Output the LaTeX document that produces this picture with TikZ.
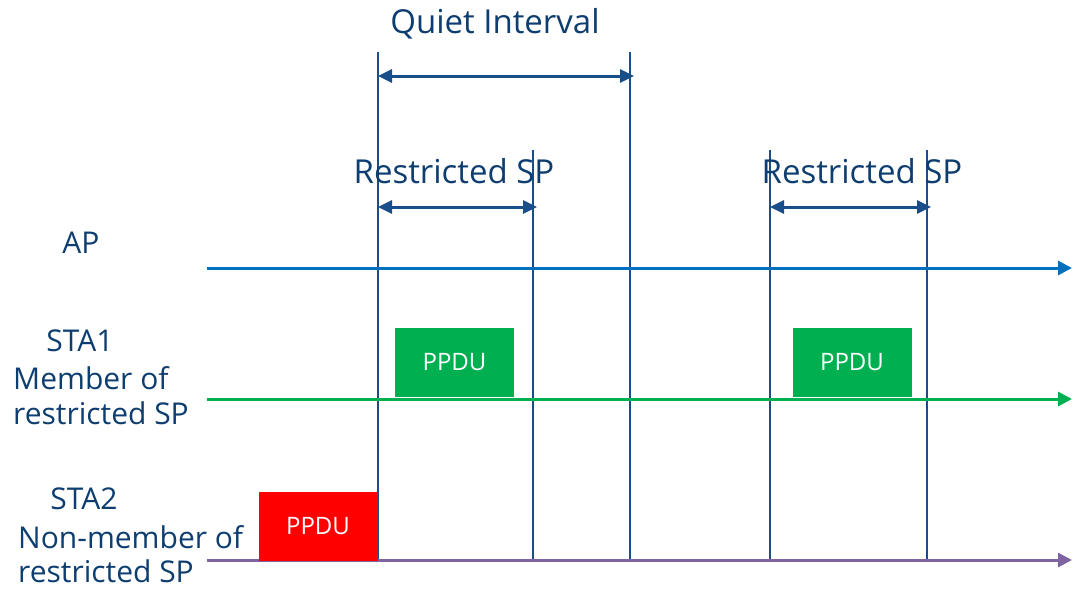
\documentclass[tikz,border=0pt]{standalone}
\usepackage{fontspec}
\setmainfont{Open Sans}
\usetikzlibrary{arrows.meta, positioning}

\definecolor{navytext}{RGB}{14,62,112}
\definecolor{markline}{RGB}{24,78,138}
\definecolor{apblue}{RGB}{0,112,192}
\definecolor{stagreen}{RGB}{0,176,80}
\definecolor{stapurple}{RGB}{128,100,162}
\definecolor{ppdured}{RGB}{255,0,0}

\begin{document}
\begin{tikzpicture}[
    x=1pt, y=-1pt,
    lbl/.style={text=navytext, font=\fontsize{30}{36}\selectfont, inner sep=0pt},
    big/.style={lbl, font=\fontsize{33}{38}\selectfont},
    ppdu/.style={rectangle, text=white, minimum width=119pt, minimum height=69pt, inner sep=0pt, font=\fontsize{24}{28}\selectfont},
    axis/.style={line width=3pt, -{Triangle[length=14pt, width=14pt]}},
    marker/.style={draw=markline, line width=2.5pt},
    span/.style={draw=markline, line width=3pt, {Triangle[length=14pt, width=13pt]}-{Triangle[length=14pt, width=13pt]}}
]
    \useasboundingbox (0,0) rectangle (1076,590);

    % Time axes
    \coordinate (ap-start) at (207,268);
    \coordinate (ap-end) at (1072,268);
    \coordinate (sta1-start) at (207,399);
    \coordinate (sta1-end) at (1072,399);
    \coordinate (sta2-start) at (207,560);
    \coordinate (sta2-end) at (1072,560);

    % Boundary markers
    \coordinate (qi-top) at (378,52);
    \coordinate (qi-bot) at (378,560);
    \coordinate (qe-top) at (630,52);
    \coordinate (qe-bot) at (630,560);
    \coordinate (spa-top) at (533,150);
    \coordinate (spa-bot) at (533,560);
    \coordinate (spb-top) at (770,150);
    \coordinate (spb-bot) at (770,560);
    \coordinate (spc-top) at (927,150);
    \coordinate (spc-bot) at (927,560);

    \draw[marker] (qi-top) -- (qi-bot);
    \draw[marker] (qe-top) -- (qe-bot);
    \draw[marker] (spa-top) -- (spa-bot);
    \draw[marker] (spb-top) -- (spb-bot);
    \draw[marker] (spc-top) -- (spc-bot);

    \draw[axis, apblue] (ap-start) -- (ap-end);
    \draw[axis, stagreen] (sta1-start) -- (sta1-end);
    \draw[axis, stapurple] (sta2-start) -- (sta2-end);

    % Interval arrows
    \coordinate (qi-l) at (378,76);
    \coordinate (qi-r) at (634,76);
    \coordinate (spa-l) at (378,207);
    \coordinate (spa-r) at (537,207);
    \coordinate (spb-l) at (770,207);
    \coordinate (spb-r) at (931,207);
    \draw[span] (qi-l) -- (qi-r);
    \draw[span] (spa-l) -- (spa-r);
    \draw[span] (spb-l) -- (spb-r);

    % Interval labels
    \node[big, anchor=base] (quiet) at (495,33) {Quiet Interval};
    \node[big, anchor=base] (rsp1) at (454,183) {Restricted SP};
    \node[big, anchor=base] (rsp2) at (862,183) {Restricted SP};

    % Station labels
    \node[lbl, anchor=base] (ap) at (81,253) {AP};
    \node[lbl, anchor=base] (sta1) at (80,351) {STA1};
    \node[lbl, anchor=base west] (sta1a) at (13,389) {Member of};
    \node[lbl, anchor=base west] (sta1b) at (13,424) {restricted SP};
    \node[lbl, anchor=base] (sta2) at (84,509) {STA2};
    \node[lbl, anchor=base west] (sta2a) at (18,548) {Non-member of};
    \node[lbl, anchor=base west] (sta2b) at (18,582) {restricted SP};

    % Frames
    \node[ppdu, fill=stagreen] (ppdu1) at (454.5,362.5) {PPDU};
    \node[ppdu, fill=stagreen] (ppdu2) at (852,362.5) {PPDU};
    \node[ppdu, fill=ppdured] (ppdu3) at (318,526) {PPDU};

\end{tikzpicture}
\end{document}
